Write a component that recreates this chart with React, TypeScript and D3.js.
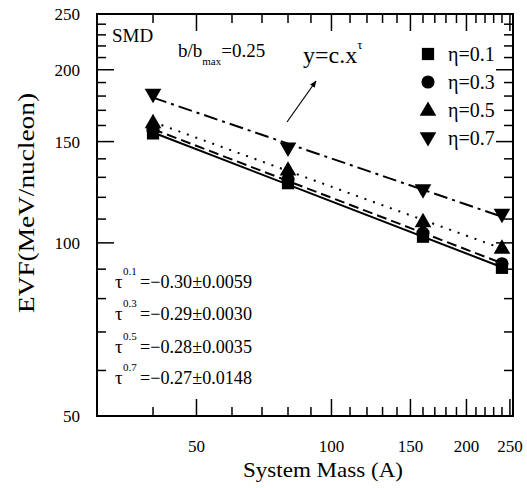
import * as d3 from 'd3'
import { useEffect, useRef } from 'react';

// system masses (A) and EVF values (MeV/nucleon)
const mass = [40, 80, 160, 240];
const eta01 = [155, 127, 102.5, 90.5];
const eta03 = [157, 129, 104, 92];
const eta05 = [162, 134, 109, 98];
const eta07 = [181, 146, 123.5, 112];

const etaLabels = ['η=0.1', 'η=0.3', 'η=0.5', 'η=0.7'];
const tauExp = ['0.1', '0.3', '0.5', '0.7'];
const tauText = ['=−0.30±0.0059', '=−0.29±0.0030', '=−0.28±0.0035', '=−0.27±0.0148'];

const xTicks = [50, 100, 150, 200, 250];
const yTicks = [50, 100, 150, 200, 250];

const W = 527, H = 488;
const L = 97, R = 513, T = 14, B = 416;

function makeChart(svgEl: SVGSVGElement) {
    const svg = d3.select(svgEl);
    svg.selectAll('*').remove();

    const x = d3.scaleLog().domain([30, 254]).range([L, R]);
    const y = d3.scaleLog().domain([50, 250]).range([B, T]);

    const xMinor = d3.range(40, 251, 10).filter(v => !xTicks.includes(v));
    const yMinor = d3.range(60, 241, 10).filter(v => !yTicks.includes(v));

    const g = svg.append('g');

    // ticks on all four sides, pointing inward
    const tk = g.append('g').attr('stroke', 'black').attr('stroke-width', 1.5);
    xTicks.forEach(v => {
        tk.append('line').attr('x1', x(v)).attr('x2', x(v)).attr('y1', B).attr('y2', B - 17);
        tk.append('line').attr('x1', x(v)).attr('x2', x(v)).attr('y1', T).attr('y2', T + 17);
    });
    xMinor.forEach(v => {
        tk.append('line').attr('x1', x(v)).attr('x2', x(v)).attr('y1', B).attr('y2', B - 9);
        tk.append('line').attr('x1', x(v)).attr('x2', x(v)).attr('y1', T).attr('y2', T + 9);
    });
    yTicks.forEach(v => {
        tk.append('line').attr('y1', y(v)).attr('y2', y(v)).attr('x1', L).attr('x2', L + 17);
        tk.append('line').attr('y1', y(v)).attr('y2', y(v)).attr('x1', R).attr('x2', R - 17);
    });
    yMinor.forEach(v => {
        tk.append('line').attr('y1', y(v)).attr('y2', y(v)).attr('x1', L).attr('x2', L + 9);
        tk.append('line').attr('y1', y(v)).attr('y2', y(v)).attr('x1', R).attr('x2', R - 9);
    });

    g.append('rect').attr('x', L).attr('y', T).attr('width', R - L).attr('height', B - T)
        .attr('fill', 'none').attr('stroke', 'black').attr('stroke-width', 2);

    // tick labels
    g.append('g').selectAll('text').data(xTicks).enter().append('text')
        .attr('x', d => x(d)).attr('y', 452).attr('text-anchor', 'middle')
        .attr('font-size', 17).text(d => d);
    g.append('g').selectAll('text').data(yTicks).enter().append('text')
        .attr('x', 80).attr('y', d => y(d) + 6).attr('text-anchor', 'end')
        .attr('font-size', 17).text(d => d);

    // axis titles
    g.append('text').attr('x', 323).attr('y', 477).attr('text-anchor', 'middle')
        .attr('font-size', 22)
        .attr('textLength', 160).attr('lengthAdjust', 'spacingAndGlyphs').text('System Mass (A)');
    g.append('text').attr('transform', 'translate(34,203) rotate(-90)').attr('text-anchor', 'middle')
        .attr('font-size', 24)
        .attr('textLength', 220).attr('lengthAdjust', 'spacingAndGlyphs').text('EVF(MeV/nucleon)');

    const series = [eta01, eta03, eta05, eta07];
    const dashes = ['none', '10,5', '2,7', '14,5,3,5'];
    const symbols = [d3.symbolSquare, d3.symbolCircle, d3.symbolTriangle, d3.symbolTriangle];
    const sizes = [150, 135, 120, 120];
    const rot = [0, 0, 0, 180];

    // power-law fits y = c x^tau, drawn between the first and last mass
    const line = d3.line<number[]>().x(d => x(d[0])).y(d => y(d[1]));
    series.forEach((vals, i) => {
        const lx = mass.map(Math.log), ly = vals.map(Math.log);
        const mx = d3.mean(lx)!, my = d3.mean(ly)!;
        const tau = d3.sum(lx.map((v, k) => (v - mx) * (ly[k] - my))) / d3.sum(lx.map(v => (v - mx) ** 2));
        const c = my - tau * mx;
        const ends = [mass[0], mass[mass.length - 1]].map(m => [m, Math.exp(c + tau * Math.log(m))]);
        g.append('path').attr('d', line(ends)!).attr('fill', 'none').attr('stroke', 'black')
            .attr('stroke-width', 2).attr('stroke-dasharray', dashes[i]);
    });

    // markers, last series on top
    [3, 2, 1, 0].forEach(i => {
        const sym = d3.symbol().type(symbols[i]).size(sizes[i]);
        g.append('g').selectAll('path').data(mass).enter().append('path')
            .attr('d', sym()!)
            .attr('transform', (d, k) => `translate(${x(d)},${y(series[i][k]) + (rot[i] ? -1 : i === 2 ? 1 : 0)}) rotate(${rot[i]})`)
            .attr('fill', 'black');
    });

    // legend
    const legY = [54, 82, 110, 138];
    etaLabels.forEach((lab, i) => {
        const sym = d3.symbol().type(symbols[i]).size(sizes[i]);
        g.append('path').attr('d', sym()!).attr('fill', 'black')
            .attr('transform', `translate(428,${legY[i] + (rot[i] ? -1 : i === 2 ? 1 : 0)}) rotate(${rot[i]})`);
        g.append('text').attr('x', 448).attr('y', legY[i] + 7).attr('font-size', 20).text(lab);
    });

    // annotations
    g.append('text').attr('x', 112).attr('y', 42).attr('font-size', 19).text('SMD');
    const bb = g.append('text').attr('x', 178).attr('y', 57).attr('font-size', 19);
    bb.append('tspan').text('b/b');
    bb.append('tspan').attr('font-size', 11).attr('dy', 8).text('max');
    bb.append('tspan').attr('dy', -8).text('=0.25');

    const eq = g.append('text').attr('x', 303).attr('y', 63).attr('font-size', 24);
    eq.append('tspan').text('y=c.x');
    eq.append('tspan').attr('font-size', 13).attr('dy', -14).text('τ');

    svg.append('defs').append('marker').attr('id', 'arr').attr('viewBox', '0 0 10 10')
        .attr('refX', 9).attr('refY', 5).attr('markerWidth', 7).attr('markerHeight', 7)
        .attr('markerUnits', 'userSpaceOnUse').attr('orient', 'auto')
        .append('path').attr('d', 'M0,1 L10,5 L0,9 Z').attr('fill', 'black');
    g.append('line').attr('x1', 287).attr('y1', 122).attr('x2', 316).attr('y2', 81)
        .attr('stroke', 'black').attr('stroke-width', 1.2).attr('marker-end', 'url(#arr)');

    const tauY = [288, 320, 353, 384];
    tauText.forEach((t, i) => {
        g.append('text').attr('x', 115).attr('y', tauY[i]).attr('font-size', 19).text('τ');
        g.append('text').attr('x', 123).attr('y', tauY[i] - 13).attr('font-size', 11).text(tauExp[i]);
        g.append('text').attr('x', 140).attr('y', tauY[i]).attr('font-size', 18)
            .attr('textLength', 112).attr('lengthAdjust', 'spacingAndGlyphs').text(t);
    });
}

function App() {
    const ref = useRef<SVGSVGElement>(null);
    useEffect(() => {
        if (ref.current) makeChart(ref.current);
    });

    return (
        <svg ref={ref} width={W} height={H}
            style={{ position: 'absolute', left: 0, top: 0, background: 'white', fontFamily: "'Liberation Serif', serif" }}>
        </svg>
    );
}

export default App;
